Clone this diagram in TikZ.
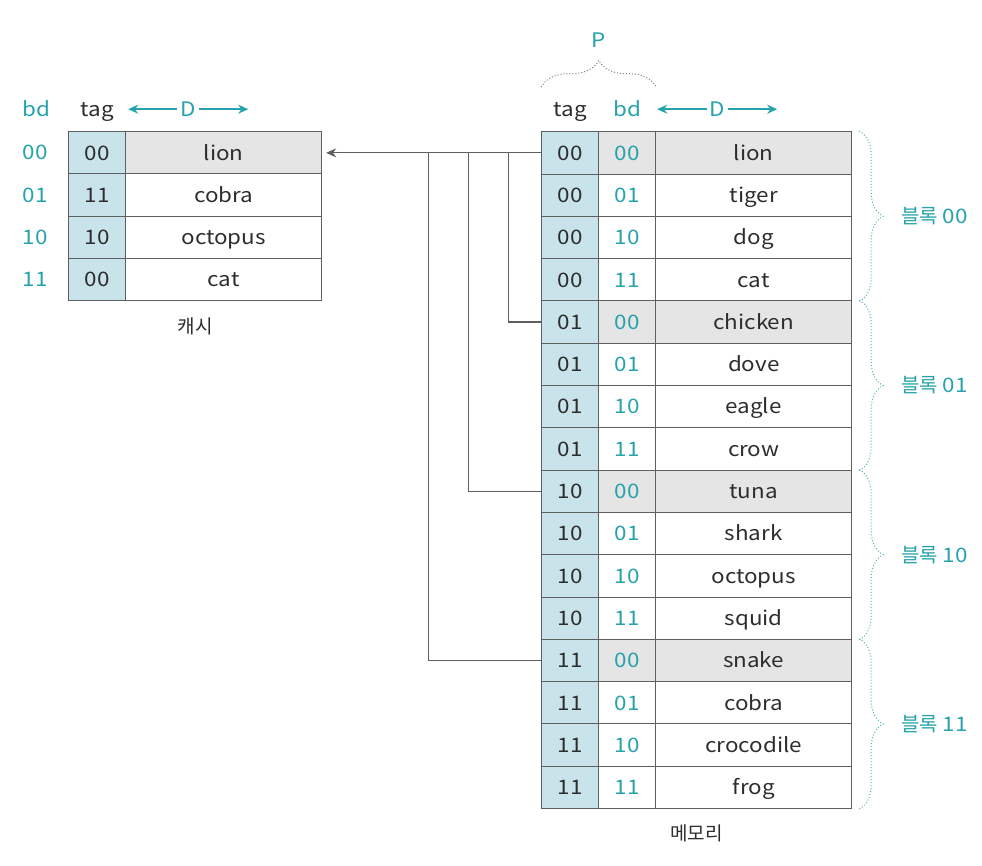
\documentclass[tikz,border=0pt]{standalone}
\usepackage{fontspec}
\setmainfont{Noto Sans CJK KR}[FakeStretch=1.12]
\newfontfamily\krfont{Noto Sans CJK KR}
\usetikzlibrary{arrows.meta}
\usetikzlibrary{calc}
\usetikzlibrary{decorations.pathreplacing}
\usetikzlibrary{matrix}
\usetikzlibrary{positioning}

\definecolor{bdteal}{RGB}{38,163,172}
\definecolor{tagblue}{RGB}{200,227,234}
\definecolor{rowgray}{RGB}{229,229,229}
\definecolor{gridgray}{RGB}{95,95,95}
\definecolor{textgray}{RGB}{45,45,45}

\begin{document}
\begin{tikzpicture}[x=1pt,y=-1pt,
    font=\fontsize{20}{23}\selectfont,text=textgray,
    cell/.style={draw=gridgray,line width=1pt,inner sep=0pt,minimum height=42.3pt,text height=14.5pt,text depth=0pt},
    tagcell/.style={fill=tagblue},
    hitcell/.style={fill=rowgray},
    bdtext/.style={text=bdteal},
    dwidth/.style={draw=bdteal,line width=1.5pt,{Stealth[length=10pt,width=9pt]}-{Stealth[length=10pt,width=9pt]}},
    link/.style={draw=gridgray,line width=1.1pt},
    blockbrace/.style={draw=bdteal!80,dotted,line width=1pt,decorate,decoration={brace,amplitude=24pt}},
    pbrace/.style={draw=gridgray!80,dotted,line width=1pt,decorate,decoration={brace,amplitude=27pt}}]

  \fill [white] (0,0) rectangle (982,866);
  \useasboundingbox (0,0) rectangle (982,866);

  \matrix (cache) [matrix of nodes,anchor=north west,inner sep=0pt,column sep=-1pt,row sep=-1pt,
    nodes={cell},
    column 1/.style={nodes={tagcell,minimum width=57pt}},
    column 2/.style={nodes={minimum width=196pt}}] at (68,131) {
    00 & |[hitcell]| lion \\
    11 & cobra \\
    10 & octopus \\
    00 & cat \\
  };

  \node [anchor=base] (ctag) at ([yshift=15pt]cache-1-1.north) {tag};
  \node [anchor=base,bdtext] (cbd) at ([xshift=-61pt]ctag.base) {bd};
  \coordinate (cdl) at ([xshift=3pt,yshift=22pt]cache-1-2.north west);
  \coordinate (cdr) at ([xshift=123pt,yshift=22pt]cache-1-2.north west);
  \draw [dwidth] (cdl) -- node [fill=white,bdtext,inner sep=3pt] (cd) {D} (cdr);

  \foreach \b [count=\i] in {00,01,10,11}
    \node [bdtext] (cbd\i) at ([xshift=-33pt]cache-\i-1.west) {\b};

  \node [font=\krfont\fontsize{19}{22}\selectfont] (cachelab) at ([yshift=-25pt]cache.south) {캐시};

  \matrix (mem) [matrix of nodes,anchor=north west,inner sep=0pt,column sep=-1pt,row sep=-1pt,
    nodes={cell},
    column 1/.style={nodes={tagcell,minimum width=57pt}},
    column 2/.style={nodes={bdtext,minimum width=57pt}},
    column 3/.style={nodes={minimum width=196pt}}] at (541,131) {
    00 & |[hitcell]| 00 & |[hitcell]| lion \\
    00 & 01 & tiger \\
    00 & 10 & dog \\
    00 & 11 & cat \\
    01 & |[hitcell]| 00 & |[hitcell]| chicken \\
    01 & 01 & dove \\
    01 & 10 & eagle \\
    01 & 11 & crow \\
    10 & |[hitcell]| 00 & |[hitcell]| tuna \\
    10 & 01 & shark \\
    10 & 10 & octopus \\
    10 & 11 & squid \\
    11 & |[hitcell]| 00 & |[hitcell]| snake \\
    11 & 01 & cobra \\
    11 & 10 & crocodile \\
    11 & 11 & frog \\
  };

  \node [anchor=base] (mtag) at ([yshift=15pt]mem-1-1.north) {tag};
  \node [anchor=base,bdtext] (mbd) at ([yshift=15pt]mem-1-2.north) {bd};
  \coordinate (mdl) at ([xshift=2pt,yshift=22pt]mem-1-3.north west);
  \coordinate (mdr) at ([xshift=122pt,yshift=22pt]mem-1-3.north west);
  \draw [dwidth] (mdl) -- node [fill=white,bdtext,inner sep=3pt] (md) {D} (mdr);

  \draw [pbrace] ([yshift=44pt]mem-1-1.north west) -- ([yshift=44pt]mem-1-2.north east)
    node [midway,yshift=47pt,bdtext] (p) {P};

  \foreach \a/\b/\lab in {1/4/00,5/8/01,9/12/10,13/16/11}
    \draw [blockbrace] ([xshift=7pt]mem-\a-3.north east) -- ([xshift=7pt]mem-\b-3.south east)
      node [midway,anchor=west,xshift=38pt,bdtext] (blk\lab) {{\krfont 블록} \lab};

  \node [font=\krfont\fontsize{19}{22}\selectfont] (memlab) at ([yshift=-24pt]mem.south) {메모리};

  \draw [link,-{Stealth[length=10pt,width=9pt]}] (mem-1-1.west) -- ([xshift=4pt]cache-1-2.east);
  \foreach \r/\d in {5/33,9/73,13/113}
    \draw [link] (mem-\r-1.west) -| ([xshift=-\d pt]mem-1-1.west);

\end{tikzpicture}
\end{document}
